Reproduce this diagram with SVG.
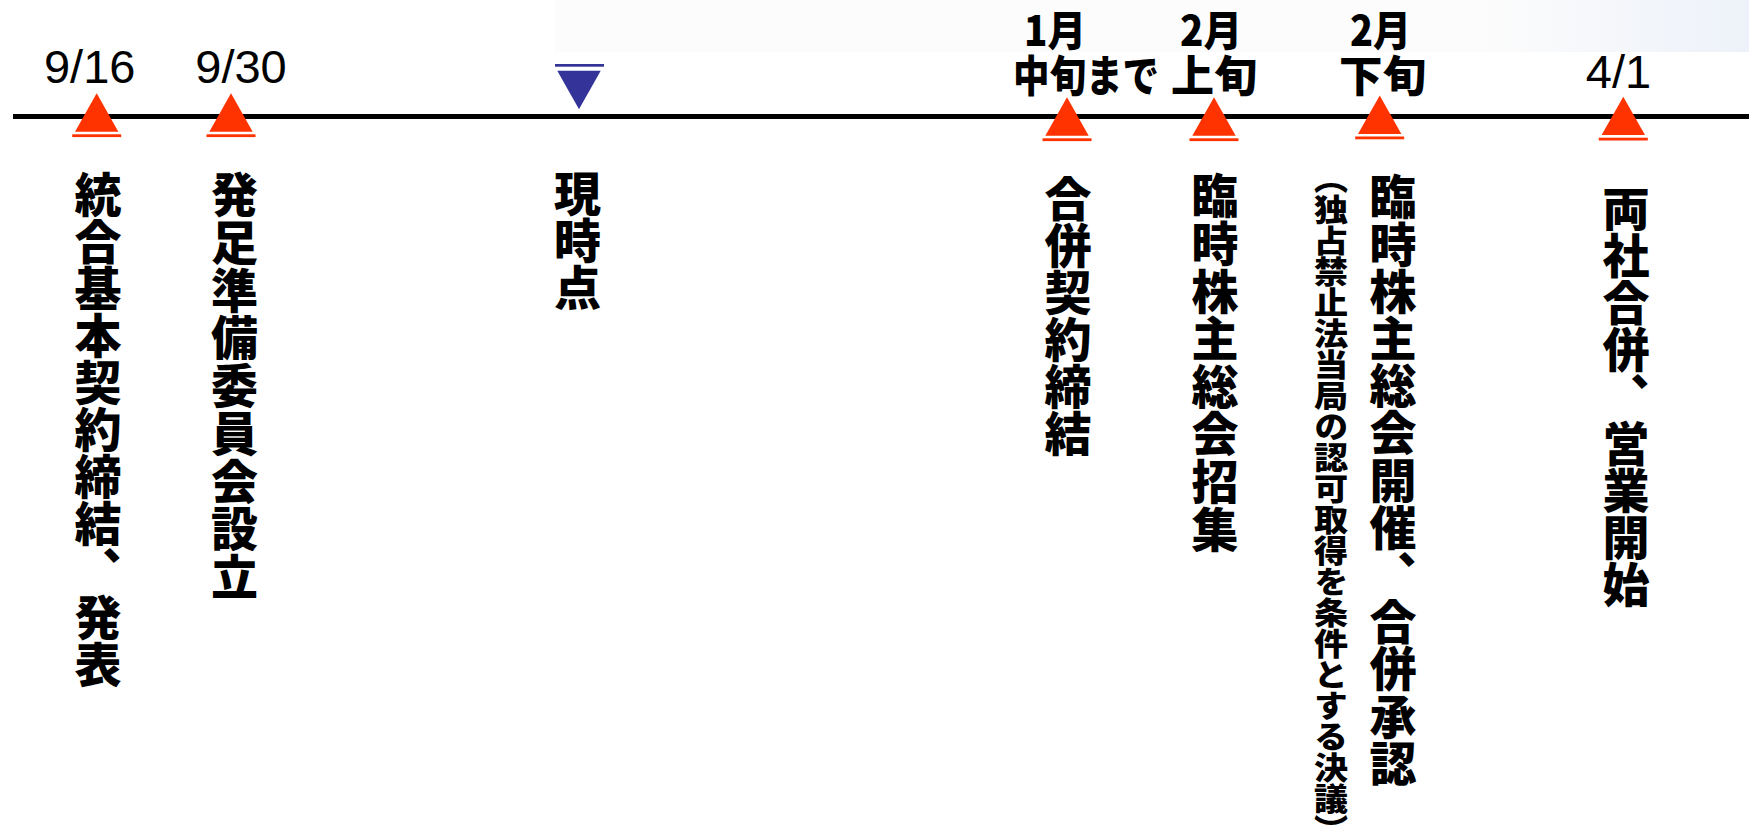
<svg xmlns="http://www.w3.org/2000/svg" xmlns:xlink="http://www.w3.org/1999/xlink" width="1749" height="829" viewBox="0 0 1749 829">
  <style>
    .date { font-family: "Liberation Sans", Arial, sans-serif; font-size: 47px; fill: #000; text-anchor: middle; }
    .top { font-family: "Noto Sans CJK JP", "Noto Sans", sans-serif; font-weight: 900; fill: #000; }
    .vert { font-family: "Noto Sans CJK JP", sans-serif; font-weight: 900; font-size: 47px; fill: #000; writing-mode: vertical-rl; }
    .tri { fill: #FF3300; }
    .now { fill: #333399; }
  </style>
  <defs>
    <linearGradient id="tint" x1="0" y1="0" x2="1" y2="0">
      <stop offset="0" stop-color="#EEF2F9" stop-opacity="0"/>
      <stop offset="1" stop-color="#EDF1F9" stop-opacity="1"/>
    </linearGradient>
    <g id="redmark">
      <path class="tri" d="M0,0 L21.7,38.4 L-21.7,38.4 Z"/>
      <rect class="tri" x="-24.5" y="41" width="49" height="2.8"/>
    </g>
  </defs>

  <rect x="0" y="0" width="1749" height="829" fill="#FFFFFF"/>
  <rect x="555" y="0" width="1194" height="52" fill="#FCFCFC"/>
  <rect x="1480" y="0" width="269" height="52" fill="url(#tint)"/>

  <g id="connectors">
    <line x1="13" y1="116.5" x2="1749" y2="116.5" stroke="#000" stroke-width="4.8"/>
  </g>

  <g id="node-0916">
    <text class="date" x="89.7" y="82.7">9/16</text>
    <use xlink:href="#redmark" transform="translate(96.7,93.3)"/>
    <text class="vert" x="98" y="171">統合基本契約締結、発表</text>
  </g>

  <g id="node-0930">
    <text class="date" x="241" y="82.7">9/30</text>
    <use xlink:href="#redmark" transform="translate(231,93.3)"/>
    <text class="vert" x="234.5" y="171" style="letter-spacing:0.7px">発足準備委員会設立</text>
  </g>

  <g id="node-now">
    <rect class="now" x="555" y="64" width="49" height="2.7"/>
    <path class="now" d="M557.3,70.7 L600.7,70.7 L579,109.3 Z"/>
    <text class="vert" x="577.5" y="170">現時点</text>
  </g>

  <g id="node-jan">
    <text class="top" x="1024" y="46" font-size="42" textLength="62" lengthAdjust="spacingAndGlyphs">1月</text>
    <text class="top" x="1013" y="92" font-size="43" textLength="146" lengthAdjust="spacingAndGlyphs">中旬まで</text>
    <use xlink:href="#redmark" transform="translate(1067,97.3)"/>
    <text class="vert" x="1068" y="175">合併契約締結</text>
  </g>

  <g id="node-feb-early">
    <text class="top" x="1180" y="46" font-size="42" textLength="62" lengthAdjust="spacingAndGlyphs">2月</text>
    <text class="top" x="1171" y="92" font-size="43" textLength="86" lengthAdjust="spacingAndGlyphs">上旬</text>
    <use xlink:href="#redmark" transform="translate(1214,97.3)"/>
    <text class="vert" x="1215" y="172" style="letter-spacing:0.6px">臨時株主総会招集</text>
  </g>

  <g id="node-feb-late">
    <text class="top" x="1350" y="46" font-size="42" textLength="61" lengthAdjust="spacingAndGlyphs">2月</text>
    <text class="top" x="1339" y="92" font-size="43" textLength="87" lengthAdjust="spacingAndGlyphs">下旬</text>
    <use xlink:href="#redmark" transform="translate(1379.7,95.5)"/>
    <text class="vert" x="1393" y="173" style="letter-spacing:0.2px">臨時株主総会開催、合併承認</text>
    <g transform="translate(1331,0) scale(1.1,1)">
      <text class="vert" x="0" y="163" style="font-size:31px">（独占禁止法当局の認可取得を条件とする決議）</text>
    </g>
  </g>

  <g id="node-apr">
    <text class="date" x="1618.5" y="88">4/1</text>
    <use xlink:href="#redmark" transform="translate(1623.3,96.7)"/>
    <text class="vert" x="1626" y="185">両社合併、営業開始</text>
  </g>
</svg>
